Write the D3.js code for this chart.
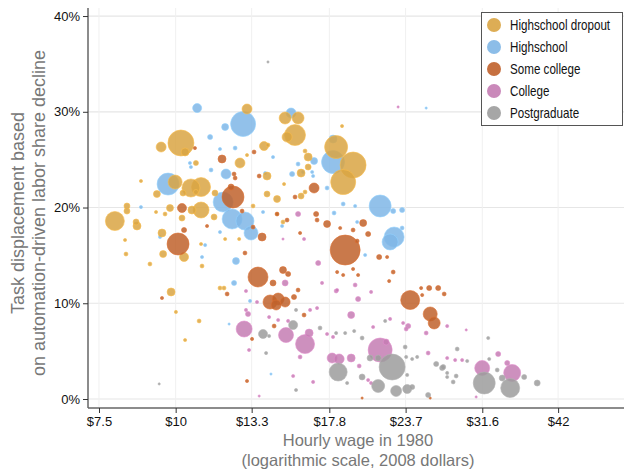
<!DOCTYPE html>
<html>
<head>
<meta charset="utf-8">
<script src="https://cdn.jsdelivr.net/npm/d3@7"></script>
<style>
  body { margin: 0; background: #fff; }
  svg { display: block; }
  .axis text { font-family: "Liberation Sans", Arial, sans-serif; font-size: 13px; fill: #111; }
  .title { font-family: "Liberation Sans", Arial, sans-serif; font-size: 18px; fill: #777; }
  .xtitle { font-size: 16.5px; }
  .legend text { font-family: "Liberation Sans", Arial, sans-serif; font-size: 14px; fill: #111; }
</style>
</head>
<body>
<svg id="chart" width="624" height="470"></svg>
<script>
// groups and colours
const groups = ["Highschool dropout", "Highschool", "Some college", "College", "Postgraduate"];
const colors = ["#d9a443", "#7fb6e6", "#c0612b", "#c47cb3", "#9c9c9c"];

// x ticks (hourly wage, log scale) and y ticks (share)
const xTicks = [7.5, 10, 13.3, 17.8, 23.7, 31.6, 42];
const yTicks = [0, 10, 20, 30, 40];

// [hourly wage 1980, task displacement %, employment share]
const dropout = [
  [10.20, 26.74, 2.64], [18.26, 26.32, 2.07], [19.46, 24.44, 2.64], [18.75, 22.66, 2.44],
  [15.65, 27.57, 1.72], [7.96, 18.59, 1.41], [10.59, 22.04, 1.27], [11.00, 22.14, 1.41],
  [11.00, 19.74, 1.0], [9.98, 22.66, 0.77], [15.08, 29.35, 0.56], [15.83, 29.35, 0.56],
  [9.47, 26.32, 0.39], [13.07, 30.29, 0.39], [12.73, 24.65, 0.39], [15.19, 27.36, 0.39],
  [10.32, 14.83, 0.32], [13.93, 26.42, 0.32], [9.83, 11.18, 0.25], [8.65, 18.07, 0.25],
  [10.63, 19.74, 0.25], [9.50, 17.34, 0.25], [16.44, 25.27, 0.25], [16.01, 23.60, 0.25],
  [14.09, 23.29, 0.25], [10.36, 25.80, 0.25], [9.54, 15.14, 0.19], [9.32, 21.41, 0.19],
  [9.79, 19.95, 0.19], [14.63, 20.89, 0.19], [10.28, 21.51, 0.14], [10.79, 21.62, 0.1],
  [11.59, 21.51, 0.14], [8.33, 20.16, 0.14], [8.33, 19.63, 0.14], [8.62, 18.49, 0.14],
  [10.24, 18.90, 0.14], [11.55, 19.01, 0.14], [10.79, 24.65, 0.1], [8.78, 22.77, 0.04],
  [9.29, 19.53, 0.04], [9.61, 19.32, 0.06], [12.69, 16.71, 0.04], [13.37, 20.16, 0.06],
  [8.27, 16.61, 0.04], [8.30, 15.14, 0.06], [9.08, 14.10, 0.06], [11.04, 13.89, 0.06],
  [11.81, 11.59, 0.06], [11.99, 11.59, 0.06], [10.01, 9.09, 0.04], [10.92, 8.15, 0.06],
  [10.36, 6.16, 0.04], [14.14, 26.53, 0.06], [16.25, 25.90, 0.06], [16.44, 24.23, 0.14],
  [14.09, 21.41, 0.14], [16.01, 21.20, 0.14], [16.25, 21.62, 0.06], [15.02, 22.45, 0.04],
  [14.96, 18.49, 0.06], [18.67, 28.51, 0.04], [13.07, 25.48, 0.04], [11.00, 16.19, 0.04],
  [12.04, 16.71, 0.04], [14.63, 19.32, 0.04]
];

const highschool = [
  [12.88, 28.72, 2.44], [9.72, 22.45, 1.89], [11.95, 20.57, 1.56], [12.36, 18.80, 1.56],
  [12.97, 18.59, 1.27], [13.27, 17.34, 0.77], [18.05, 24.75, 2.07], [21.54, 20.16, 1.89],
  [22.70, 16.92, 1.56], [22.36, 16.40, 1.0], [10.84, 30.39, 0.32], [15.42, 29.87, 0.39],
  [12.08, 23.50, 0.39], [18.05, 27.15, 0.25], [12.04, 28.41, 0.19], [16.81, 24.86, 0.19],
  [12.54, 14.41, 0.19], [11.38, 27.36, 0.1], [11.81, 26.11, 0.04], [12.50, 26.21, 0.06],
  [10.55, 24.65, 0.04], [10.59, 24.23, 0.04], [11.42, 23.92, 0.06], [8.78, 20.05, 0.04],
  [11.81, 17.44, 0.04], [15.48, 23.50, 0.1], [15.83, 24.54, 0.06], [16.13, 23.71, 0.04],
  [16.69, 23.71, 0.04], [16.75, 23.29, 0.04], [17.65, 22.04, 0.06], [18.75, 20.37, 0.06],
  [19.61, 20.16, 0.04], [22.62, 19.63, 0.1], [23.39, 19.74, 0.1], [23.39, 17.86, 0.06],
  [18.12, 19.43, 0.06], [19.76, 18.49, 0.04], [14.91, 18.07, 0.04], [14.41, 25.27, 0.04],
  [13.99, 23.60, 0.04], [13.88, 19.53, 0.04], [12.45, 12.12, 0.1], [20.36, 15.04, 0.04],
  [9.43, 16.92, 0.04], [11.17, 16.08, 0.04], [11.04, 14.83, 0.04], [13.22, 10.24, 0.04],
  [12.22, 7.83, 0.02], [14.30, 2.61, 0.02], [25.60, 30.39, 0.02]
];

const someCollege = [
  [10.09, 16.19, 1.89], [12.40, 21.10, 1.89], [13.62, 12.74, 1.56], [18.89, 15.56, 3.52],
  [24.11, 10.34, 1.41], [25.99, 8.88, 0.77], [26.38, 7.94, 0.56], [14.25, 10.13, 0.77],
  [14.69, 10.44, 0.56], [15.08, 10.13, 0.39], [14.58, 9.82, 0.39], [16.81, 22.04, 0.39],
  [11.90, 25.07, 0.25], [10.24, 19.95, 0.32], [13.83, 16.92, 0.25], [14.96, 13.47, 0.19],
  [17.65, 18.28, 0.19], [20.21, 18.38, 0.19], [14.41, 12.12, 0.14], [10.75, 26.21, 0.04],
  [12.45, 23.50, 0.06], [12.50, 23.08, 0.06], [12.31, 22.14, 0.14], [10.32, 17.65, 0.1],
  [11.25, 18.07, 0.04], [12.83, 19.63, 0.06], [13.37, 17.96, 0.06], [13.68, 23.29, 0.06],
  [15.65, 21.10, 0.06], [14.63, 19.32, 0.06], [15.19, 18.69, 0.06], [16.94, 19.32, 0.1],
  [17.00, 18.69, 0.06], [18.54, 17.86, 0.04], [19.46, 17.65, 0.06], [20.59, 17.23, 0.1],
  [15.95, 17.34, 0.04], [19.76, 16.50, 0.06], [12.97, 15.25, 0.06], [15.25, 13.06, 0.1],
  [15.83, 11.38, 0.06], [15.59, 10.65, 0.1], [12.13, 10.97, 0.06], [9.50, 10.55, 0.04],
  [14.47, 7.62, 0.06], [16.19, 8.77, 0.06], [13.32, 6.27, 0.04], [21.46, 14.83, 0.1],
  [22.11, 14.83, 0.04], [18.33, 13.26, 0.04], [18.75, 12.95, 0.04], [19.46, 13.58, 0.04],
  [19.83, 12.95, 0.04], [22.62, 13.26, 0.06], [22.28, 12.32, 0.04], [25.89, 11.59, 0.1],
  [26.78, 11.59, 0.1], [27.39, 10.97, 0.06], [25.12, 11.59, 0.04], [25.22, 10.86, 0.04],
  [13.07, 1.88, 0.04], [13.42, 25.80, 0.06], [20.13, 0.10, 0.02], [25.99, 0.10, 0.02]
];

const college = [
  [12.93, 7.31, 1.0], [15.13, 6.68, 0.88], [16.25, 5.74, 1.41], [17.99, 4.28, 0.39],
  [18.47, 4.18, 0.39], [19.32, 4.28, 0.25], [21.54, 5.12, 2.25], [31.59, 3.24, 0.88],
  [35.35, 2.72, 1.13], [16.50, 6.89, 0.25], [22.03, 5.95, 0.14], [19.32, 8.77, 0.19],
  [23.04, 30.50, 0.02], [15.83, 19.32, 0.1], [16.19, 16.71, 0.04], [14.96, 16.71, 0.02],
  [15.08, 12.12, 0.14], [17.07, 14.20, 0.1], [17.32, 12.12, 0.04], [18.26, 11.28, 0.06],
  [13.02, 11.28, 0.04], [13.57, 10.13, 0.04], [13.12, 8.88, 0.1], [14.20, 8.56, 0.04],
  [14.69, 8.25, 0.04], [15.25, 8.15, 0.04], [17.00, 9.50, 0.04], [16.56, 9.30, 0.04],
  [17.65, 6.79, 0.04], [18.05, 6.48, 0.04], [15.95, 4.39, 0.06], [13.17, 5.12, 0.04],
  [15.54, 2.40, 0.04], [16.75, 1.78, 0.04], [13.68, 0.31, 0.02], [19.61, 11.91, 0.06],
  [18.33, 11.38, 0.04], [20.82, 11.18, 0.04], [19.83, 10.44, 0.1], [22.36, 8.36, 0.04],
  [23.48, 7.94, 0.04], [23.93, 7.62, 0.1], [23.75, 7.31, 0.06], [20.98, 7.52, 0.04],
  [25.60, 6.89, 0.06], [27.70, 7.62, 0.04], [29.75, 7.21, 0.02], [25.79, 4.80, 0.06],
  [27.70, 4.28, 0.04], [28.54, 4.07, 0.04], [29.30, 4.07, 0.04], [33.54, 4.70, 0.1],
  [34.70, 3.76, 0.1], [19.91, 3.45, 0.06], [20.59, 1.98, 0.04], [20.82, 1.67, 0.04],
  [30.88, 0.21, 0.02], [13.02, 9.30, 0.04]
];

const postgraduate = [
  [13.88, 6.79, 0.32], [15.54, 7.73, 0.32], [18.40, 2.82, 1.27], [22.53, 3.34, 2.64],
  [21.38, 1.36, 0.66], [22.87, 0.84, 0.47], [23.84, 1.04, 0.32], [31.83, 1.67, 1.89],
  [35.09, 1.15, 1.41], [20.13, 2.30, 0.14], [24.29, 1.25, 0.1], [25.79, 0.42, 0.1],
  [15.71, 9.30, 0.04], [14.14, 35.20, 0.02], [17.19, 7.42, 0.06], [21.95, 8.15, 0.04],
  [18.26, 6.89, 0.04], [18.89, 6.89, 0.04], [19.54, 7.10, 0.04], [20.13, 6.37, 0.06],
  [9.40, 1.57, 0.02], [23.66, 5.43, 0.06], [23.75, 4.39, 0.04], [24.29, 4.18, 0.04],
  [24.75, 4.39, 0.04], [27.18, 3.24, 0.1], [28.76, 5.22, 0.06], [29.86, 3.97, 0.04],
  [32.31, 6.37, 0.04], [32.43, 4.18, 0.04], [33.42, 3.03, 0.06], [34.05, 2.19, 0.14],
  [36.98, 2.30, 0.1], [38.83, 1.67, 0.14], [27.70, 2.72, 0.04], [27.70, 2.30, 0.04],
  [28.33, 1.78, 0.06], [28.65, 2.40, 0.06], [23.84, 2.51, 0.04], [19.03, 1.67, 0.04],
  [15.71, 0.94, 0.04], [14.04, 4.80, 0.04], [14.20, 6.58, 0.04], [20.74, 4.28, 0.14],
  [21.38, 4.28, 0.14], [26.58, 3.66, 0.1], [27.29, 3.34, 0.1]
];

const seriesData = [dropout, highschool, someCollege, college, postgraduate];
// order the groups are painted in (bottom to top)
const drawOrder = [1, 0, 2, 3, 4];

const svg = d3.select("#chart");
const margin = { top: 8, right: 0, bottom: 62, left: 88 };
const width = 624, height = 470;

const x = d3.scaleLog()
  .domain([7.197, 53.78])
  .range([margin.left, width - margin.right]);

const y = d3.scaleLinear()
  .domain([-0.94, 40.84])
  .range([height - margin.bottom, margin.top]);

const r = d3.scaleSqrt().domain([0, 4]).range([0, 16]);

// gridlines
const grid = svg.append("g");
grid.selectAll(".hg")
  .data(yTicks)
  .enter()
  .append("line")
  .attr("x1", margin.left)
  .attr("x2", width)
  .attr("y1", d => y(d))
  .attr("y2", d => y(d))
  .attr("stroke", "#e6e6e6")
  .attr("stroke-width", 1.2);
grid.selectAll(".vg")
  .data(xTicks)
  .enter()
  .append("line")
  .attr("x1", d => x(d))
  .attr("x2", d => x(d))
  .attr("y1", margin.top)
  .attr("y2", height - margin.bottom)
  .attr("stroke", "#f0f0f0")
  .attr("stroke-width", 1);

// bubbles
drawOrder.forEach(gi => {
  const rows = seriesData[gi].slice().sort((a, b) => b[2] - a[2]);
  svg.append("g")
    .selectAll("circle")
    .data(rows)
    .enter()
    .append("circle")
    .attr("cx", d => x(d[0]))
    .attr("cy", d => y(d[1]))
    .attr("r", d => r(d[2]))
    .attr("fill", colors[gi])
    .attr("fill-opacity", 0.85)
    .attr("stroke", d3.color(colors[gi]).brighter(0.4))
    .attr("stroke-width", 0.6);
});

// axes
const yAxis = svg.append("g")
  .attr("class", "axis")
  .attr("transform", `translate(${margin.left},0)`)
  .call(d3.axisLeft(y).tickValues(yTicks).tickFormat(d => d + "%").tickSize(5).tickPadding(3));
yAxis.select(".domain").attr("stroke", "#666").attr("stroke-width", 1.5)
  .attr("d", `M0,${margin.top}V${height - margin.bottom}`);
yAxis.selectAll(".tick line").attr("stroke", "#333");

const xAxis = svg.append("g")
  .attr("class", "axis")
  .attr("transform", `translate(0,${height - margin.bottom})`)
  .call(d3.axisBottom(x).tickValues(xTicks).tickFormat(d => "$" + d).tickSize(5).tickPadding(4));
xAxis.select(".domain").attr("stroke", "#666").attr("stroke-width", 1.5)
  .attr("d", `M${margin.left},0H${width}`);
xAxis.selectAll(".tick line").attr("stroke", "#333");

// axis titles
svg.append("text")
  .attr("class", "title xtitle")
  .attr("text-anchor", "middle")
  .attr("x", 358)
  .attr("y", 446)
  .text("Hourly wage in 1980");
svg.append("text")
  .attr("class", "title xtitle")
  .attr("text-anchor", "middle")
  .attr("x", 358)
  .attr("y", 466)
  .text("(logarithmic scale, 2008 dollars)");

svg.append("text")
  .attr("class", "title")
  .attr("text-anchor", "middle")
  .attr("transform", "translate(24,213) rotate(-90)")
  .text("Task displacement based");
svg.append("text")
  .attr("class", "title")
  .attr("text-anchor", "middle")
  .attr("transform", "translate(45,213) rotate(-90)")
  .text("on automation-driven labor share decline");

// legend
const legend = svg.append("g").attr("class", "legend");
legend.append("rect")
  .attr("x", 481.5)
  .attr("y", 12.5)
  .attr("width", 141)
  .attr("height", 113)
  .attr("fill", "#fff")
  .attr("stroke", "#555");
groups.forEach((g, i) => {
  legend.append("circle")
    .attr("cx", 494)
    .attr("cy", 25 + i * 22)
    .attr("r", 7)
    .attr("fill", colors[i])
    .attr("fill-opacity", 0.9);
  // the reference uses a narrow face, so squeeze the text a little
  legend.append("text")
    .attr("transform", `translate(510,${30 + i * 22}) scale(0.83,1)`)
    .text(g);
});
</script>
</body>
</html>
